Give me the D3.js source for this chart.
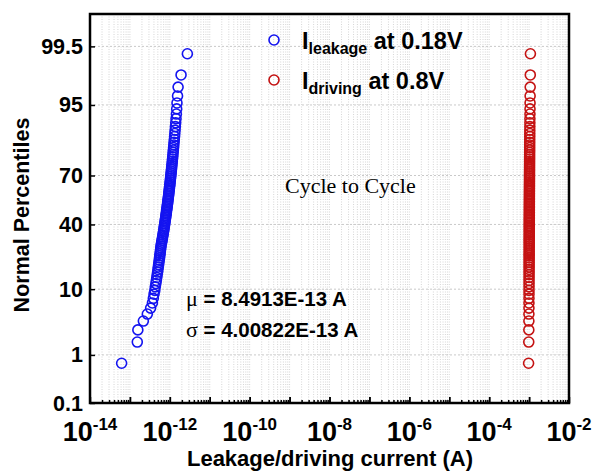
<!DOCTYPE html>
<html>
<head>
<meta charset="utf-8">
<script src="https://cdn.jsdelivr.net/npm/d3@7"></script>
<style>
  html, body { margin: 0; padding: 0; background: #fff; }
  svg { display: block; }
  text { font-family: "Liberation Sans", Arial, sans-serif; font-weight: bold; fill: #000; }
</style>
</head>
<body>
<svg id="chart" width="595" height="473"></svg>
<script>
// Leakage current at 0.18 V, 100 cycles, sorted ascending (A)
const leakage = [
  6.2e-14, 1.53e-13, 1.58e-13, 2.17e-13, 2.73e-13, 3.30e-13, 3.66e-13, 3.86e-13, 4.02e-13, 4.20e-13,
  4.32e-13, 4.46e-13, 4.59e-13, 4.71e-13, 4.82e-13, 4.94e-13, 5.04e-13, 5.14e-13, 5.24e-13, 5.33e-13,
  5.43e-13, 5.52e-13, 5.60e-13, 5.69e-13, 5.77e-13, 5.85e-13, 5.94e-13, 6.01e-13, 6.13e-13, 6.25e-13,
  6.37e-13, 6.49e-13, 6.60e-13, 6.71e-13, 6.82e-13, 6.93e-13, 7.04e-13, 7.15e-13, 7.26e-13, 7.36e-13,
  7.47e-13, 7.57e-13, 7.68e-13, 7.78e-13, 7.88e-13, 7.99e-13, 8.09e-13, 8.19e-13, 8.29e-13, 8.40e-13,
  8.50e-13, 8.61e-13, 8.71e-13, 8.81e-13, 8.91e-13, 9.02e-13, 9.12e-13, 9.22e-13, 9.33e-13, 9.43e-13,
  9.54e-13, 9.64e-13, 9.75e-13, 9.86e-13, 9.97e-13, 1.008e-12, 1.019e-12, 1.030e-12, 1.041e-12, 1.053e-12,
  1.065e-12, 1.077e-12, 1.089e-12, 1.101e-12, 1.114e-12, 1.127e-12, 1.140e-12, 1.153e-12, 1.167e-12, 1.181e-12,
  1.196e-12, 1.211e-12, 1.226e-12, 1.242e-12, 1.259e-12, 1.276e-12, 1.294e-12, 1.314e-12, 1.334e-12, 1.355e-12,
  1.378e-12, 1.403e-12, 1.430e-12, 1.460e-12, 1.485e-12, 1.510e-12, 1.560e-12, 1.610e-12, 1.910e-12, 2.750e-12
];

// Driving current at 0.8 V, 100 cycles, sorted ascending (A)
const driving = [
  0.972e-3, 0.981e-3, 0.985e-3, 0.988e-3, 0.990e-3, 0.992e-3, 0.993e-3, 0.994e-3, 0.995e-3, 0.996e-3,
  0.997e-3, 0.998e-3, 0.998e-3, 0.999e-3, 1.000e-3, 1.000e-3, 1.001e-3, 1.002e-3, 1.002e-3, 1.003e-3,
  1.003e-3, 1.004e-3, 1.004e-3, 1.005e-3, 1.005e-3, 1.006e-3, 1.006e-3, 1.007e-3, 1.007e-3, 1.008e-3,
  1.008e-3, 1.008e-3, 1.009e-3, 1.009e-3, 1.010e-3, 1.010e-3, 1.010e-3, 1.011e-3, 1.011e-3, 1.012e-3,
  1.012e-3, 1.012e-3, 1.013e-3, 1.013e-3, 1.013e-3, 1.014e-3, 1.014e-3, 1.015e-3, 1.015e-3, 1.015e-3,
  1.016e-3, 1.016e-3, 1.016e-3, 1.017e-3, 1.017e-3, 1.018e-3, 1.018e-3, 1.018e-3, 1.019e-3, 1.019e-3,
  1.020e-3, 1.020e-3, 1.021e-3, 1.021e-3, 1.022e-3, 1.022e-3, 1.023e-3, 1.023e-3, 1.024e-3, 1.024e-3,
  1.025e-3, 1.025e-3, 1.026e-3, 1.027e-3, 1.027e-3, 1.028e-3, 1.029e-3, 1.029e-3, 1.030e-3, 1.031e-3,
  1.032e-3, 1.033e-3, 1.034e-3, 1.035e-3, 1.036e-3, 1.037e-3, 1.038e-3, 1.040e-3, 1.041e-3, 1.043e-3,
  1.045e-3, 1.047e-3, 1.049e-3, 1.052e-3, 1.055e-3, 1.058e-3, 1.062e-3, 1.066e-3, 1.072e-3, 1.080e-3
];

// Axis ticks
const yTickPercents = [0.1, 1, 10, 40, 70, 95, 99.5];
const xDecades = [-14, -13, -12, -11, -10, -9, -8, -7, -6, -5, -4, -3, -2];
const xLabelExponents = [-14, -12, -10, -8, -6, -4, -2];

// Annotation strings
const statLines = [
  { sym: "\u03bc", text: " = 8.4913E-13 A" },
  { sym: "\u03c3", text: " = 4.00822E-13 A" }
];
const legendItems = [
  { main: "I", sub: "leakage", rest: " at 0.18V", color: "#1414f0" },
  { main: "I", sub: "driving", rest: " at 0.8V", color: "#c41212" }
];

// Inverse standard normal CDF (Acklam's rational approximation)
function probit(p) {
  const a = [-3.969683028665376e+01, 2.209460984245205e+02, -2.759285104469687e+02, 1.383577518672690e+02, -3.066479806614716e+01, 2.506628277459239e+00];
  const b = [-5.447609879822406e+01, 1.615858368580409e+02, -1.556989798598866e+02, 6.680131188771972e+01, -1.328068155288572e+01];
  const c = [-7.784894002430293e-03, -3.223964580411365e-01, -2.400758277161838e+00, -2.549732539343734e+00, 4.374664141464968e+00, 2.938163982698783e+00];
  const d = [7.784695709041462e-03, 3.224671290700398e-01, 2.445134137142996e+00, 3.754408661907416e+00];
  const pl = 0.02425, ph = 1 - pl;
  let q, r;
  if (p < pl) {
    q = Math.sqrt(-2 * Math.log(p));
    return (((((c[0]*q+c[1])*q+c[2])*q+c[3])*q+c[4])*q+c[5]) / ((((d[0]*q+d[1])*q+d[2])*q+d[3])*q+1);
  } else if (p <= ph) {
    q = p - 0.5; r = q * q;
    return (((((a[0]*r+a[1])*r+a[2])*r+a[3])*r+a[4])*r+a[5])*q / (((((b[0]*r+b[1])*r+b[2])*r+b[3])*r+b[4])*r+1);
  } else {
    q = Math.sqrt(-2 * Math.log(1 - p));
    return -(((((c[0]*q+c[1])*q+c[2])*q+c[3])*q+c[4])*q+c[5]) / ((((d[0]*q+d[1])*q+d[2])*q+d[3])*q+1);
  }
}

const svg = d3.select("#chart");
const plot = { left: 90, right: 569, top: 14, bottom: 403 };

const x = d3.scaleLog().domain([1e-14, 1e-2]).range([plot.left, plot.right]);
const zScale = d3.scaleLinear().domain([probit(0.001), probit(0.999)]).range([plot.bottom, plot.top]);
const yPct = pct => zScale(probit(pct / 100));

// Median-rank plotting positions
const rankPct = (i, n) => 100 * (i + 1 - 0.3) / (n + 0.4);

// Grid
const grid = svg.append("g").attr("class", "grid");
const minorVals = [];
xDecades.forEach(e => {
  for (let m = 1; m <= 9; m++) {
    const v = m * Math.pow(10, e);
    if (v > 1e-14 && v < 1e-2) minorVals.push(v);
  }
});
grid.selectAll("line.v").data(minorVals).join("line")
  .attr("class", "v")
  .attr("x1", d => x(d)).attr("x2", d => x(d))
  .attr("y1", plot.top).attr("y2", plot.bottom)
  .attr("stroke", "#cccccc").attr("stroke-width", 0.8).attr("stroke-dasharray", "1,1.5");
grid.selectAll("line.h").data(yTickPercents.slice(1)).join("line")
  .attr("class", "h")
  .attr("x1", plot.left).attr("x2", plot.right)
  .attr("y1", d => yPct(d)).attr("y2", d => yPct(d))
  .attr("stroke", "#c9c9c9").attr("stroke-width", 1).attr("stroke-dasharray", "2,2");

// Bottom axis ticks (inward)
const xAxis = d3.axisBottom(x)
  .tickValues(minorVals.concat(xDecades.map(e => Math.pow(10, e))))
  .tickSize(0).tickFormat("");
const gx = svg.append("g").attr("transform", `translate(0,${plot.bottom})`).call(xAxis);
gx.select(".domain").remove();
gx.selectAll(".tick line")
  .attr("y2", d => {
    const e = Math.log10(d);
    return Math.abs(e - Math.round(e)) < 1e-9 ? -6 : -3;
  })
  .attr("stroke", "#000").attr("stroke-width", 1.5);

// X tick labels: 10 with superscript exponent
const xl = svg.append("g");
xLabelExponents.forEach(e => {
  const t = xl.append("text")
    .attr("x", x(Math.pow(10, e)))
    .attr("y", 441)
    .attr("text-anchor", "middle")
    .attr("font-size", 27);
  t.append("tspan").text("10");
  t.append("tspan").attr("font-size", 17).attr("dy", -11).text(String(e));
});

// Left axis ticks and labels
const yAxis = d3.axisLeft(zScale)
  .tickValues(yTickPercents.map(p => probit(p / 100)))
  .tickSize(0).tickFormat("");
const gy = svg.append("g").attr("transform", `translate(${plot.left},0)`).call(yAxis);
gy.select(".domain").remove();
gy.selectAll(".tick line").attr("x2", 5).attr("stroke", "#000").attr("stroke-width", 1.5);

svg.append("g").selectAll("text").data(yTickPercents).join("text")
  .attr("x", 83)
  .attr("y", d => yPct(d) + 7.5)
  .attr("text-anchor", "end")
  .attr("font-size", 21.5)
  .text(d => String(d));

// Frame
svg.append("rect")
  .attr("x", plot.left).attr("y", plot.top)
  .attr("width", plot.right - plot.left).attr("height", plot.bottom - plot.top)
  .attr("fill", "none").attr("stroke", "#000").attr("stroke-width", 2.5);

// Series markers
const series = [
  { values: leakage, color: legendItems[0].color },
  { values: driving, color: legendItems[1].color }
];
series.forEach(s => {
  svg.append("g").selectAll("circle").data(s.values).join("circle")
    .attr("cx", d => x(d))
    .attr("cy", (d, i) => yPct(rankPct(i, s.values.length)))
    .attr("r", 5)
    .attr("fill", "none")
    .attr("stroke", s.color)
    .attr("stroke-width", 1.6);
});

// Legend
legendItems.forEach((it, k) => {
  const cy = 40 + k * 40;
  svg.append("circle").attr("cx", 274).attr("cy", cy).attr("r", 5)
    .attr("fill", "none").attr("stroke", it.color).attr("stroke-width", 1.6);
  const t = svg.append("text").attr("x", 302).attr("y", cy + 8.5).attr("font-size", 23.5);
  t.append("tspan").text(it.main);
  t.append("tspan").attr("font-size", 16).attr("dy", 5).text(it.sub);
  t.append("tspan").attr("dy", -5).text(it.rest);
});

// Annotations
svg.append("text")
  .attr("x", 285).attr("y", 193)
  .style("font-family", '"Liberation Serif", "Times New Roman", serif')
  .style("font-weight", "normal")
  .attr("font-size", 22)
  .text("Cycle to Cycle");

statLines.forEach((s, k) => {
  const t = svg.append("text").attr("x", 186).attr("y", 306 + k * 31).attr("font-size", 20.5);
  t.append("tspan")
    .style("font-family", '"Liberation Serif", "Times New Roman", serif')
    .style("font-weight", "normal")
    .attr("font-size", 22)
    .text(s.sym);
  t.append("tspan").text(s.text);
});

// Axis titles
svg.append("text")
  .attr("x", 330).attr("y", 466)
  .attr("text-anchor", "middle")
  .attr("font-size", 22)
  .text("Leakage/driving current (A)");

svg.append("text")
  .attr("transform", "translate(29,215) rotate(-90)")
  .attr("text-anchor", "middle")
  .attr("font-size", 21.5)
  .text("Normal Percentiles");
</script>
</body>
</html>
